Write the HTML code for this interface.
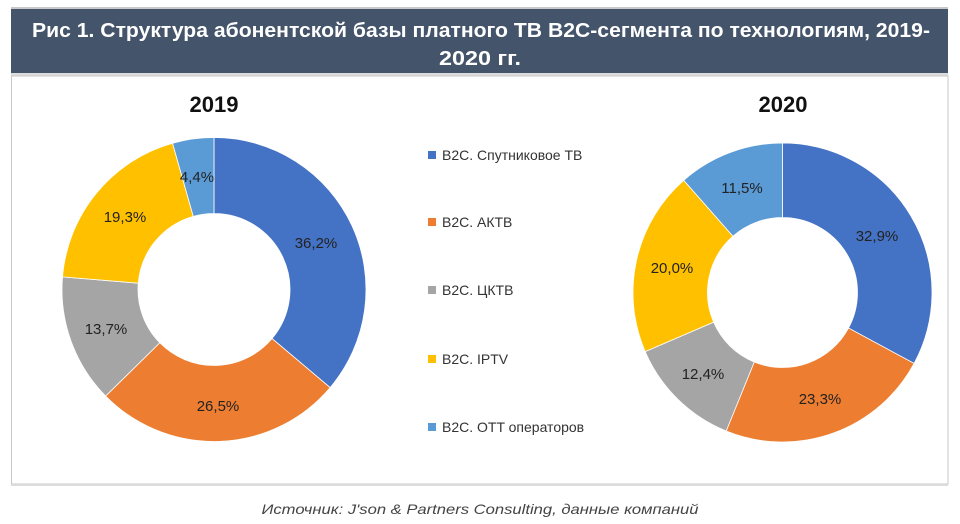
<!DOCTYPE html>
<html><head><meta charset="utf-8"><style>
html,body{margin:0;padding:0;background:#fff;width:960px;height:524px;overflow:hidden}
svg text{font-family:"Liberation Sans","DejaVu Sans",sans-serif}
</style></head><body>
<svg id="s" width="960" height="524" viewBox="0 0 960 524" xmlns="http://www.w3.org/2000/svg">
<rect x="11" y="7" width="937" height="2" fill="#c8c8c8"/>
<rect x="11" y="9" width="937" height="64" fill="#44546a"/>
<rect x="11" y="73" width="937" height="3" fill="#dcdcdc"/>
<rect x="11.5" y="76" width="936.5" height="408" fill="#fff" stroke="#c8c8c8" stroke-width="1"/>
<rect x="11" y="484" width="937" height="2" fill="#dcdcdc"/>
<text x="481" y="37" text-anchor="middle" font-size="20" font-weight="bold" fill="#fff" textLength="898" lengthAdjust="spacingAndGlyphs">Рис 1. Структура абонентской базы платного ТВ B2C-сегмента по технологиям, 2019-</text>
<text x="480" y="65" text-anchor="middle" font-size="20" font-weight="bold" fill="#fff" textLength="82" lengthAdjust="spacingAndGlyphs">2020 гг.</text>
<text x="214" y="112" text-anchor="middle" font-size="22" font-weight="bold" fill="#111">2019</text>
<text x="783" y="112" text-anchor="middle" font-size="22" font-weight="bold" fill="#111">2020</text>
<g id="d1"></g><g id="d2"></g>
<g font-size="15" fill="#222" text-anchor="middle">
<text x="316" y="248">36,2%</text><text x="218" y="411">26,5%</text><text x="106" y="334">13,7%</text><text x="125" y="222">19,3%</text><text x="197" y="182">4,4%</text>
<text x="877" y="241">32,9%</text><text x="820" y="404">23,3%</text><text x="703" y="379">12,4%</text><text x="672" y="273">20,0%</text><text x="742" y="193">11,5%</text>
</g>
<g font-size="14" fill="#333">
<rect x="428" y="151" width="8" height="8" fill="#4472c4"/><text x="442" y="160">B2C. Спутниковое ТВ</text>
<rect x="428" y="218" width="8" height="8" fill="#ed7d31"/><text x="442" y="227">B2C. АКТВ</text>
<rect x="428" y="286" width="8" height="8" fill="#a5a5a5"/><text x="442" y="295">B2C. ЦКТВ</text>
<rect x="428" y="355" width="8" height="8" fill="#ffc000"/><text x="442" y="364">B2C. IPTV</text>
<rect x="428" y="423" width="8" height="8" fill="#5b9bd5"/><text x="442" y="432">B2C. OTT операторов</text>
</g>
<text x="480" y="514" text-anchor="middle" font-size="14" font-style="italic" fill="#444" textLength="437" lengthAdjust="spacingAndGlyphs">Источник: J'son &amp; Partners Consulting, данные компаний</text>
</svg>
<script>
var C=["#4472c4","#ed7d31","#a5a5a5","#ffc000","#5b9bd5"];
function donut(id,cx,cy,R,r,vals){
 var g=document.getElementById(id),tot=vals.reduce(function(a,b){return a+b},0),a=0,h="";
 function p(rad,t){return [cx+rad*Math.sin(t),cy-rad*Math.cos(t)];}
 vals.forEach(function(v,i){
  var t0=a/tot*2*Math.PI;a+=v;var t1=a/tot*2*Math.PI,L=(t1-t0)>Math.PI?1:0;
  var A=p(R,t0),B=p(R,t1),D=p(r,t1),E=p(r,t0);
  h+='<path d="M'+A+' A'+R+','+R+' 0 '+L+' 1 '+B+' L'+D+' A'+r+','+r+' 0 '+L+' 0 '+E+' Z" fill="'+C[i]+'" stroke="#fff" stroke-width="0.8"/>';
 });
 g.innerHTML=h;
}
donut("d1",214,289.5,152,76,[36.2,26.5,13.7,19.3,4.4]);
donut("d2",782.5,292.5,149.5,75,[32.9,23.3,12.4,20.0,11.5]);
</script>
</body></html>
